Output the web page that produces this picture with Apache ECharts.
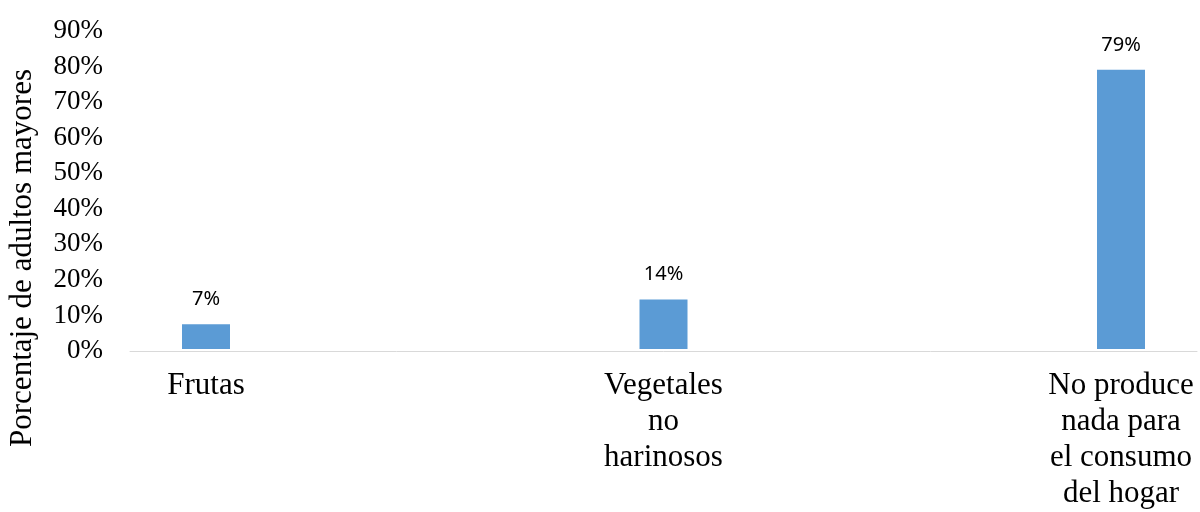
<!DOCTYPE html>
<html>
<head>
<meta charset="utf-8">
<script src="https://cdn.jsdelivr.net/npm/echarts@6/dist/echarts.min.js"></script>
<style>
  html, body { margin: 0; padding: 0; background: #fff; overflow: hidden; width: 1200px; height: 512px; position: relative; }
  /* the canvas is wider than the page so the category bands can run past both edges */
  #chart { position: absolute; left: -40px; top: 0; width: 1400px; height: 512px; }
</style>
</head>
<body>
<div id="chart"></div>
<script>
// Categories and shares of older adults by what they produce at home
const categories = ['Frutas', 'Vegetales\nno\nharinosos', 'No produce\nnada para\nel consumo\ndel hogar'];
const values = [0.07, 0.14, 0.79];
const yTicks = [0, 0.1, 0.2, 0.3, 0.4, 0.5, 0.6, 0.7, 0.8, 0.9];
const yTitle = 'Porcentaje de adultos mayores';

const serif = "'Liberation Serif', 'DejaVu Serif', serif";
const pct = v => Math.round(v * 100) + '%';

const chart = echarts.init(document.getElementById('chart'), null, { renderer: 'canvas' });

chart.setOption({
  backgroundColor: '#ffffff',
  animation: false,
  grid: [
    // bars and category labels
    { left: 17.25, width: 1372.5, top: 31, bottom: 161, containLabel: false },
    // value axis and baseline
    { left: 170, right: 163, top: 31, bottom: 161, containLabel: false }
  ],
  xAxis: [
    {
      type: 'category', gridIndex: 0, data: categories,
      axisLine: { show: false }, axisTick: { show: false },
      axisLabel: {
        interval: 0, margin: 19, color: '#000', fontFamily: serif,
        fontSize: 31, lineHeight: 36, align: 'center'
      },
      splitLine: { show: false }
    },
    {
      type: 'category', gridIndex: 1, data: [''],
      axisLine: { show: true, lineStyle: { color: '#d9d9d9', width: 1 } },
      axisTick: { show: false }, axisLabel: { show: false },
      splitLine: { show: false }
    }
  ],
  yAxis: [
    { type: 'value', gridIndex: 0, min: yTicks[0], max: yTicks[yTicks.length - 1], show: false },
    {
      type: 'value', gridIndex: 1,
      min: yTicks[0], max: yTicks[yTicks.length - 1], interval: yTicks[1] - yTicks[0],
      axisLine: { show: false }, axisTick: { show: false },
      splitLine: { show: false },
      axisLabel: { margin: 27, color: '#000', fontFamily: serif, fontSize: 27, formatter: pct }
    }
  ],
  graphic: [
    {
      type: 'text', x: 63, y: 258, rotation: Math.PI / 2,
      style: {
        text: yTitle, fill: '#000', font: "31px 'Liberation Serif', serif",
        textAlign: 'center', textVerticalAlign: 'middle'
      }
    }
  ],
  series: [
    {
      type: 'bar', xAxisIndex: 0, yAxisIndex: 0, data: values,
      barWidth: 48,
      itemStyle: { color: '#5b9bd5' },
      label: {
        show: true, position: 'top', distance: 15,
        color: '#000', fontFamily: "'Noto Sans', 'Liberation Sans', sans-serif",
        fontSize: 20, formatter: p => pct(p.value)
      }
    }
  ]
});
</script>
</body>
</html>
